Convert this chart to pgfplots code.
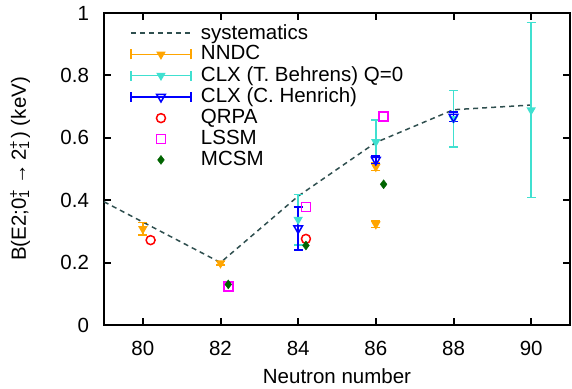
\documentclass[border=0pt]{standalone}
\usepackage{pgfplots}
\pgfplotsset{compat=1.18}
\usepackage{fontspec}
\setmainfont{Liberation Sans}
\definecolor{cOrange}{RGB}{255,165,0}
\definecolor{cTurq}{RGB}{64,224,208}
\definecolor{cBlue}{RGB}{0,0,255}
\definecolor{cRed}{RGB}{255,0,0}
\definecolor{cMag}{RGB}{255,0,255}
\definecolor{cGreen}{RGB}{0,100,0}
\definecolor{cSlate}{RGB}{47,79,79}
\newcommand{\supsub}[2]{\makebox[0pt][l]{\textsuperscript{#1}}\textsubscript{#2}\hspace{0.1em}}
\pgfplotsset{
  errleg/.style={legend image code/.code={
    \path[draw=none,fill=none] (0pt,0pt) -- (68pt,0pt);
    \draw[##1,mark=none] (0pt,0pt) -- (60pt,0pt);
    \draw[##1,mark=none] (0pt,-5pt) -- (0pt,5pt);
    \draw[##1,mark=none] (60pt,-5pt) -- (60pt,5pt);
    \path[##1] plot coordinates {(30pt,0pt)};
  }},
  markleg/.style={legend image code/.code={
    \path[draw=none,fill=none] (0pt,0pt) -- (68pt,0pt);
    \path[##1] plot coordinates {(30pt,0pt)};
  }},
  lineleg/.style={legend image code/.code={
    \path[draw=none,fill=none] (0pt,0pt) -- (68pt,0pt);
    \draw[##1] (0pt,0pt) -- (60pt,0pt);
  }},
}
\begin{document}
\fontsize{20.5}{24}\selectfont
\begin{tikzpicture}
\begin{axis}[
  name=ax,
  scale only axis,
  width=466pt, height=312pt,
  xmin=79, xmax=91, ymin=0, ymax=1,
  xtick={80,82,84,86,88,90},
  ytick={0,0.2,0.4,0.6,0.8,1},
  tick align=inside,
  major tick length=7pt,
  tick style={line width=2pt, black},
  axis line style={line width=2.5pt},
  /pgf/number format/assume math mode=true,
  tick label style={font=\fontsize{20.5}{24}\selectfont},
  xticklabel style={yshift=-9pt},
  yticklabel style={xshift=-8pt},
  label style={font=\fontsize{20.5}{24}\selectfont},
  xlabel={Neutron number},
  ylabel={B(E2;0\supsub{+}{1}\,→\,2\supsub{+}{1}) (keV)},
  xlabel style={at={(axis description cs:0.5,-0.186)}, anchor=base, inner sep=0pt},
  ylabel style={at={(axis description cs:-0.18,0.5)}, anchor=center},
  legend cell align=left,
  legend style={draw=none, fill=none, at={(axis cs:79.67,0.971)}, anchor=north west,
    font=\fontsize{20.5}{24}\selectfont, row sep=-0.5pt, inner sep=0pt},
  clip=false,
]
\addplot[cSlate, line width=1.5pt, dash pattern=on 5pt off 4pt, lineleg] coordinates {
  (79,0.395) (82,0.2) (84,0.413) (86,0.585) (88,0.69) (90,0.705)};
\addlegendentry{systematics}
\addplot[cOrange, line width=1.5pt, only marks, mark=triangle*, mark size=4pt,
  mark options={rotate=180, solid}, errleg,
  error bars/.cd, y dir=both, y explicit, error bar style={line width=1.5pt},
  error mark options={rotate=90, mark size=4.5pt, line width=1.5pt}]
  coordinates {
  (80,0.308) +- (0,0.02)
  (82,0.198) +- (0,0.006)
  (86,0.507) +- (0,0.012)
  (86,0.323) +- (0,0.01)};
\addlegendentry{NNDC}
\addplot[cTurq, line width=1.5pt, only marks, mark=triangle*, mark size=4pt,
  mark options={rotate=180, solid}, errleg,
  error bars/.cd, y dir=both, y explicit, error bar style={line width=1.5pt},
  error mark options={rotate=90, mark size=4.5pt, line width=1.5pt}]
  coordinates {
  (84,0.338) +- (0,0.081)
  (86,0.587) +- (0,0.07)
  (88,0.661) +- (0,0.09)
  (90,0.689) +- (0,0.281)};
\addlegendentry{CLX (T. Behrens) Q=0}
\addplot[cBlue, line width=1.5pt, only marks, mark=triangle, mark size=5pt,
  mark options={rotate=180, solid}, errleg,
  error bars/.cd, y dir=both, y explicit, error bar style={line width=1.5pt},
  error mark options={rotate=90, mark size=4.5pt, line width=1.5pt}]
  coordinates {
  (84,0.31) +- (0,0.069)
  (86,0.529) +- (0,0.012)
  (88,0.667) +- (0,0.015)};
\addlegendentry{CLX (C. Henrich)}
\addplot[cRed, line width=1.5pt, only marks, mark=o, mark size=4.5pt, markleg]
  coordinates {(80.2,0.272) (84.2,0.276)};
\addlegendentry{QRPA}
\addplot[cMag, line width=1.5pt, only marks, mark=square, mark size=4.5pt, markleg]
  coordinates {(82.2,0.123) (84.2,0.379) (86.2,0.669)};
\addlegendentry{LSSM}
\addplot[cGreen, only marks, mark=diamond*, mark size=4.5pt, markleg]
  coordinates {(82.2,0.13) (84.2,0.255) (86.2,0.451)};
\addlegendentry{MCSM}
\end{axis}
\pgfresetboundingbox
\path ([xshift=-104pt,yshift=-63pt]ax.south west) rectangle ([xshift=2pt,yshift=13pt]ax.north east);
\end{tikzpicture}
\end{document}
